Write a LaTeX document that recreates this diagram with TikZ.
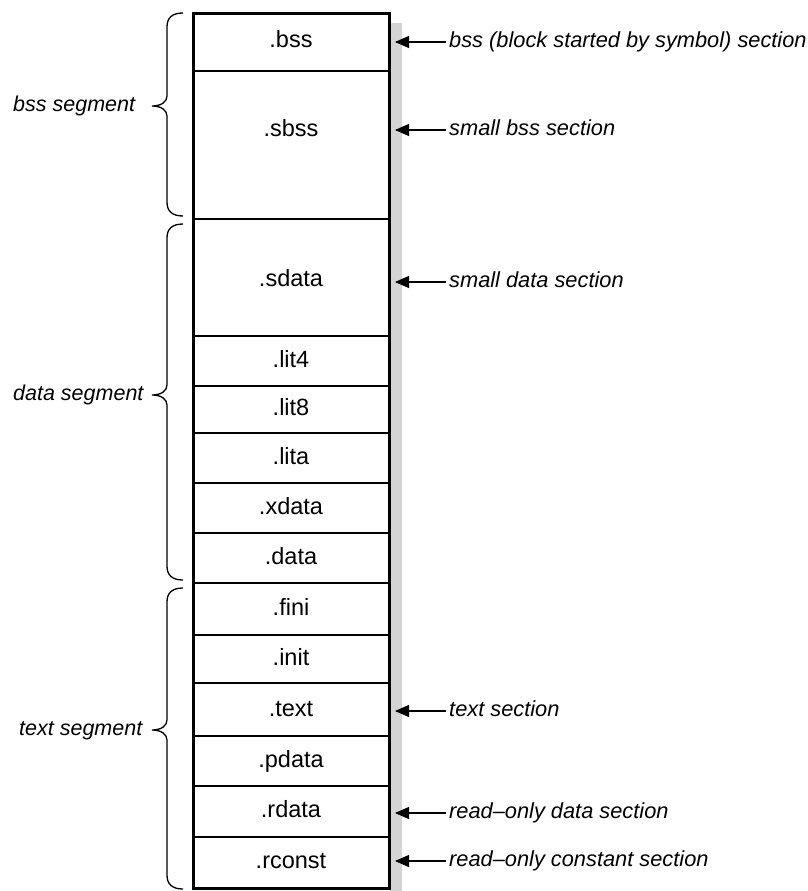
\documentclass[tikz,border=0pt]{standalone}
\usepackage{fontspec}
\setmainfont{Liberation Sans}
\usetikzlibrary{arrows.meta}

\tikzset{
  seclabel/.style={font=\fontsize{23.5}{27}\selectfont, inner sep=0pt,
    text height=17pt, text depth=5pt},
  notelabel/.style={font=\fontsize{21.8}{25}\selectfont\itshape, inner xsep=3pt,
    inner ysep=0pt, text height=15pt, text depth=4pt, anchor=west},
  seglabel/.style={font=\fontsize{21.5}{25}\selectfont\itshape, inner sep=0pt,
    text height=15pt, text depth=4pt, anchor=west},
  divider/.style={line width=1.5pt},
  frame/.style={line width=3pt},
  shadowfill/.style={fill=black!17, draw=none},
  pointer/.style={line width=1.3pt, -{Triangle[length=14pt,width=12pt]}},
  bracepath/.style={line width=1.3pt},
}

% left curly brace: top y, bottom y, tip y
\newcommand\segbrace[3]{%
  \draw[bracepath] (183,#1) .. controls (172,#1) and (167,#1+5) .. (167,#1+14)
    -- (167,#3-10) .. controls (167,#3-4) and (161,#3) .. (152,#3)
    .. controls (161,#3) and (167,#3+4) .. (167,#3+10)
    -- (167,#2-14) .. controls (167,#2-5) and (172,#2) .. (183,#2);}

\begin{document}
\begin{tikzpicture}[x=1pt, y=-1pt]
  \useasboundingbox (0,0) rectangle (807,891);

  % drop shadow of the section stack
  \fill[shadowfill] (390,23) rectangle (402,900);

  % section stack
  \fill[white] (193,14) rectangle (389,888);
  \foreach \yy in {71,219,336,386,433,483,533,583,635,683,736,786,837}
    \draw[divider] (193,\yy) -- (389,\yy);
  \draw[frame] (193,14) rectangle (389,888);

  % section names
  \node[seclabel] (bss)    at (291,42)  {.bss};
  \node[seclabel] (sbss)   at (291,130) {.sbss};
  \node[seclabel] (sdata)  at (291,280) {.sdata};
  \node[seclabel] (lit4)   at (291,361) {.lit4};
  \node[seclabel] (lit8)   at (291,409) {.lit8};
  \node[seclabel] (lita)   at (291,458) {.lita};
  \node[seclabel] (xdata)  at (291,508) {.xdata};
  \node[seclabel] (data)   at (291,558) {.data};
  \node[seclabel] (fini)   at (291,609) {.fini};
  \node[seclabel] (init)   at (291,659) {.init};
  \node[seclabel] (text)   at (291,710) {.text};
  \node[seclabel] (pdata)  at (291,761) {.pdata};
  \node[seclabel] (rdata)  at (291,811) {.rdata};
  \node[seclabel] (rconst) at (291,862) {.rconst};

  % arrow tips rest against the shadow
  \coordinate (tipline) at (395,0);

  % section descriptions
  \node[notelabel] (nbss)    at (446,42)  {bss (block started by symbol) section};
  \node[notelabel] (nsbss)   at (446,130) {small bss section};
  \node[notelabel] (nsdata)  at (446,282) {small data section};
  \node[notelabel] (ntext)   at (446,711) {text section};
  \node[notelabel] (nrdata)  at (446,813) {read\textendash only data section};
  \node[notelabel] (nrconst) at (446,861) {read\textendash only constant section};

  \foreach \n in {nbss,nsbss,nsdata,ntext,nrdata,nrconst}
    \draw[pointer] (\n.west) -- (\n.west -| tipline);

  % segment braces and names
  \segbrace{13}{216}{106}
  \segbrace{224}{580}{395}
  \segbrace{588}{889}{730}
  \node[seglabel] (segbss)  at (13,106) {bss segment};
  \node[seglabel] (segdata) at (13,395) {data segment};
  \node[seglabel] (segtext) at (19,730) {text segment};
\end{tikzpicture}
\end{document}
